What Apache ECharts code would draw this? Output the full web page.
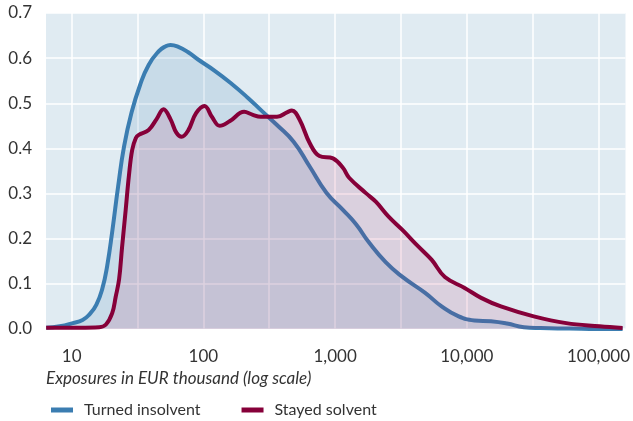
<!DOCTYPE html>
<html>
<head>
<meta charset="utf-8">
<style>
  html, body { margin: 0; padding: 0; background: #ffffff; }
  #chart { width: 633px; height: 421px; }
</style>
<script src="https://cdn.jsdelivr.net/npm/echarts@6/dist/echarts.min.js"></script>
</head>
<body>
<div id="chart"></div>
<script>
// Density of exposures (EUR thousand) for firms that turned insolvent vs stayed solvent
const seriesNames = ['Turned insolvent', 'Stayed solvent'];

const insolventExposure = [6.4, 8.1, 10.2, 12.1, 13.6, 15.4, 17.1, 18.6, 20.4, 22.5, 25.0, 28.5, 33.0, 38.4, 45.7, 51.5, 56.2, 64.5, 76.7, 91.1, 122, 161, 216, 280, 362, 484, 641, 859, 1146, 1442, 1805, 2420, 3228, 4829, 6440, 8531, 11440, 15270, 20230, 27130, 36170, 60000, 100000, 152400];
const insolventDensity  = [0.003, 0.006, 0.013, 0.020, 0.032, 0.054, 0.090, 0.140, 0.220, 0.315, 0.405, 0.480, 0.540, 0.585, 0.615, 0.626, 0.629, 0.625, 0.613, 0.597, 0.572, 0.545, 0.513, 0.482, 0.452, 0.415, 0.360, 0.302, 0.264, 0.232, 0.192, 0.148, 0.116, 0.080, 0.050, 0.029, 0.019, 0.017, 0.012, 0.004, 0.002, 0.001, 0.000, 0.000];

const solventExposure = [6.4, 11.5, 16.2, 18.2, 20.3, 21.6, 22.9, 24.1, 25.7, 27.2, 28.8, 30.7, 32.3, 38.4, 44.1, 49.8, 56.2, 62.3, 68.3, 76.7, 88.0, 102, 116, 133, 158, 204, 235, 272, 362, 431, 470, 539, 641, 761, 964, 1146, 1278, 1713, 2037, 2549, 3228, 4278, 5418, 6817, 9627, 12850, 18150, 32230, 56960, 101900, 152400];
const solventDensity  = [0.003, 0.003, 0.004, 0.010, 0.035, 0.072, 0.110, 0.180, 0.264, 0.340, 0.397, 0.423, 0.430, 0.441, 0.465, 0.487, 0.465, 0.435, 0.426, 0.440, 0.478, 0.494, 0.470, 0.450, 0.460, 0.481, 0.475, 0.470, 0.470, 0.480, 0.484, 0.463, 0.412, 0.383, 0.378, 0.357, 0.335, 0.301, 0.282, 0.249, 0.220, 0.183, 0.153, 0.115, 0.091, 0.069, 0.050, 0.028, 0.013, 0.006, 0.002];

const xLabelValues = [10, 100, 1000, 10000, 100000];
const xGridValues = [10, 31.62, 100, 316.2, 1000, 3162, 10000, 31620, 100000];
const yTicks = [0, 0.1, 0.2, 0.3, 0.4, 0.5, 0.6, 0.7];
const xAxisTitle = 'Exposures in EUR thousand (log scale)';
const xRange = [6.38, 160300];

const FONT = 'Lato, "Open Sans", sans-serif';
const lg = v => Math.log10(v);
const pairs = (xs, ys) => xs.map((x, i) => [lg(x), ys[i]]);

const chart = echarts.init(document.getElementById('chart'), null, { renderer: 'canvas' });

chart.setOption({
  animation: false,
  textStyle: { fontFamily: FONT },
  grid: {
    left: 46, right: 0, top: 13, bottom: 92,
    show: true, backgroundColor: '#e0ebf2', borderWidth: 0
  },
  xAxis: {
    type: 'value',
    min: lg(xRange[0]),
    max: lg(xRange[1]),
    axisLine: { show: false },
    axisTick: { show: false, customValues: xGridValues.map(lg) },
    splitLine: { show: true, lineStyle: { color: '#ffffff', width: 1.5 } },
    axisLabel: {
      customValues: xLabelValues.map(lg),
      margin: 19,
      fontSize: 17,
      color: '#333333',
      fontFamily: FONT,
      formatter: v => Math.round(Math.pow(10, v)).toLocaleString('en-US')
    }
  },
  yAxis: {
    type: 'value',
    min: yTicks[0],
    max: yTicks[yTicks.length - 1],
    interval: 0.1,
    axisLine: { show: false },
    axisTick: { show: false },
    splitLine: { show: true, lineStyle: { color: '#ffffff', width: 1.5 } },
    axisLabel: {
      margin: 14,
      fontSize: 17,
      color: '#333333',
      fontFamily: FONT,
      formatter: v => v.toFixed(1)
    }
  },
  legend: {
    left: 46, top: 397,
    icon: 'rect',
    itemWidth: 22, itemHeight: 5,
    itemGap: 41,
    textStyle: { fontSize: 16, color: '#333333', fontFamily: FONT, padding: [0, 0, 0, 6] },
    data: seriesNames
  },
  graphic: [{
    type: 'text',
    left: 46, top: 370,
    style: {
      text: xAxisTitle,
      font: 'italic 17px ' + FONT,
      fill: '#333333'
    }
  }],
  series: [
    {
      name: seriesNames[0],
      type: 'line',
      data: pairs(insolventExposure, insolventDensity),
      smooth: 0.5,
      showSymbol: false,
      lineStyle: { color: '#3b7db1', width: 4 },
      itemStyle: { color: '#3b7db1' },
      areaStyle: { color: 'rgba(59,125,177,0.2)', origin: 'start' },
      z: 2
    },
    {
      name: seriesNames[1],
      type: 'line',
      data: pairs(solventExposure, solventDensity),
      smooth: 0.4,
      showSymbol: false,
      lineStyle: { color: '#860039', width: 4 },
      itemStyle: { color: '#860039' },
      areaStyle: { color: 'rgba(174,0,70,0.16)', origin: 'start' },
      z: 3
    }
  ]
});
</script>
</body>
</html>
